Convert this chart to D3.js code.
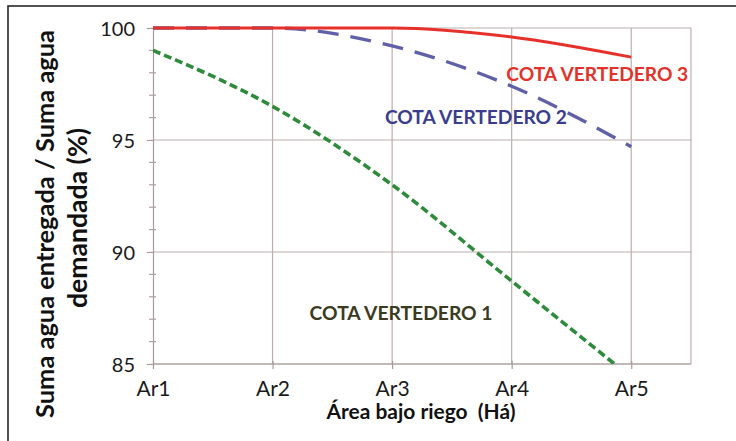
<!DOCTYPE html>
<html>
<head>
<meta charset="utf-8">
<script src="https://cdn.jsdelivr.net/npm/d3@7"></script>
<style>
  html, body { margin: 0; padding: 0; background: #ffffff; }
  svg { display: block; }
</style>
</head>
<body>
<svg id="chart" width="736" height="441"></svg>
<script>
// ---- data ----
const categories = ["Ar1", "Ar2", "Ar3", "Ar4", "Ar5"];
const xValues = [1, 2, 3, 4, 5];
const cota1 = [99.0, 96.5, 93.0, 88.7, 84.4];
const cota2 = [100, 100, 99.2, 97.4, 94.7];
const cota3 = [100, 100, 100, 99.6, 98.7];
const yTicks = [85, 90, 95, 100];
const yMinorTicks = [86, 87, 88, 89, 91, 92, 93, 94, 96, 97, 98, 99];
const seriesNames = ["COTA VERTEDERO 1", "COTA VERTEDERO 2", "COTA VERTEDERO 3"];
const yTitleLines = ["Suma agua entregada / Suma agua", "demandada (%)"];
const xTitle = "Área bajo riego  (Há)";

// ---- layout ----
const plot = { left: 153, right: 691, top: 28, bottom: 364 };
const FONT = "Lato, 'Open Sans', sans-serif";
const gridColor = "#bcaeae";

const svg = d3.select("#chart");

// outer frame (cut on right / bottom like the reference)
svg.append("rect")
  .attr("x", 8).attr("y", 6).attr("width", 900).attr("height", 600)
  .attr("fill", "none").attr("stroke", "#262626").attr("stroke-width", 1.6);

const x = d3.scaleLinear().domain([1, 5.5]).range([plot.left, plot.right]);
const y = d3.scaleLinear().domain([85, 100]).range([plot.bottom, plot.top]);

// fit text helper: adjust font-size so rendered length matches target width
function fit(sel, target) {
  const node = sel.node();
  const fs = parseFloat(sel.attr("font-size"));
  const w = node.getComputedTextLength();
  if (w > 0) sel.attr("font-size", (fs * target / w).toFixed(2));
  return sel;
}

// horizontal gridlines
svg.append("g").selectAll("line").data(yTicks).join("line")
  .attr("x1", plot.left).attr("x2", plot.right)
  .attr("y1", d => y(d)).attr("y2", d => y(d))
  .attr("stroke", gridColor).attr("stroke-width", 1.2);

// vertical gridlines
svg.append("g").selectAll("line").data(xValues.slice(1)).join("line")
  .attr("x1", d => x(d)).attr("x2", d => x(d))
  .attr("y1", plot.top).attr("y2", plot.bottom)
  .attr("stroke", gridColor).attr("stroke-width", 1.2);

// right border of plot area
svg.append("line")
  .attr("x1", plot.right).attr("x2", plot.right)
  .attr("y1", plot.top).attr("y2", plot.bottom)
  .attr("stroke", gridColor).attr("stroke-width", 1.2);

// y axis
const yAxis = d3.axisLeft(y).tickValues(yTicks).tickSize(6).tickPadding(12)
  .tickFormat(d3.format("d"));
const gy = svg.append("g").attr("transform", `translate(${plot.left},0)`).call(yAxis);
gy.select(".domain").attr("stroke", "#a89a9a").attr("stroke-width", 1.2);
gy.selectAll(".tick line").attr("stroke", "#a89a9a").attr("stroke-width", 1.2);
gy.selectAll(".tick text")
  .attr("font-family", FONT).attr("font-size", 20).attr("fill", "#1a1a1a")
  .attr("dy", "0.36em");
// minor ticks crossing the axis
svg.append("g").selectAll("line").data(yMinorTicks).join("line")
  .attr("x1", plot.left - 4).attr("x2", plot.left + 3)
  .attr("y1", d => y(d)).attr("y2", d => y(d))
  .attr("stroke", "#a89a9a").attr("stroke-width", 1.1);

// x axis
const xAxis = d3.axisBottom(x).tickValues(xValues).tickSize(5).tickPadding(12)
  .tickFormat((d, i) => categories[i]);
const gx = svg.append("g").attr("transform", `translate(0,${plot.bottom})`).call(xAxis);
gx.select(".domain").remove();
svg.append("line")
  .attr("x1", plot.left).attr("x2", plot.right)
  .attr("y1", plot.bottom).attr("y2", plot.bottom)
  .attr("stroke", "#a89a9a").attr("stroke-width", 1.2);
gx.selectAll(".tick line").attr("stroke", "#a89a9a").attr("stroke-width", 1.2)
  .attr("y1", -3);
gx.selectAll(".tick text")
  .attr("font-family", FONT).attr("font-size", 21).attr("fill", "#1a1a1a");

// clip path for series
svg.append("clipPath").attr("id", "plotclip").append("rect")
  .attr("x", plot.left).attr("y", plot.top - 3)
  .attr("width", plot.right - plot.left).attr("height", plot.bottom - plot.top + 3);

const line = d3.line().x((d, i) => x(xValues[i])).y(d => y(d)).curve(d3.curveMonotoneX);

const series = [
  { values: cota1, color: "#2e8b3b", width: 3.6, dash: "8,4" },
  { values: cota2, color: "#5f60a8", width: 3.4, dash: "21,12" },
  { values: cota3, color: "#e8302a", width: 3.0, dash: null }
];
const gs = svg.append("g").attr("clip-path", "url(#plotclip)");
series.forEach(s => {
  gs.append("path").datum(s.values)
    .attr("d", line)
    .attr("fill", "none")
    .attr("stroke", s.color)
    .attr("stroke-width", s.width)
    .attr("stroke-dasharray", s.dash)
    .attr("stroke-linecap", "butt");
});

// series labels (anchored in data space)
const labelSpecs = [
  { text: seriesNames[0], x: 2.31, y: 86.96, color: "#3b3a1e", width: 183 },
  { text: seriesNames[1], x: 2.94, y: 95.71, color: "#3a3d8e", width: 182 },
  { text: seriesNames[2], x: 3.955, y: 97.63, color: "#e2322a", width: 182 }
];
labelSpecs.forEach(l => {
  const t = svg.append("text")
    .attr("x", x(l.x)).attr("y", y(l.y))
    .attr("font-family", FONT).attr("font-weight", "bold").attr("font-size", 20)
    .attr("fill", l.color).text(l.text);
  fit(t, l.width);
});

// y axis title (two lines, rotated)
const yTitlePos = [{ bx: 54, cy: 224, w: 388 }, { bx: 87, cy: 218, w: 180 }];
const tl1 = svg.append("text")
  .attr("transform", `translate(${yTitlePos[0].bx},${yTitlePos[0].cy}) rotate(-90)`)
  .attr("text-anchor", "middle").attr("font-family", FONT).attr("font-weight", "bold")
  .attr("font-size", 24).attr("fill", "#111").text(yTitleLines[0]);
fit(tl1, yTitlePos[0].w);
const tl2 = svg.append("text")
  .attr("transform", `translate(${yTitlePos[1].bx},${yTitlePos[1].cy}) rotate(-90)`)
  .attr("text-anchor", "middle").attr("font-family", FONT).attr("font-weight", "bold")
  .attr("font-size", 24).attr("fill", "#111").text(yTitleLines[1]);
fit(tl2, yTitlePos[1].w);

// x axis title (double space preserved)
const xt = svg.append("text")
  .attr("x", 421).attr("y", 419)
  .style("white-space", "pre")
  .attr("text-anchor", "middle").attr("font-family", FONT).attr("font-weight", "bold")
  .attr("font-size", 19).attr("fill", "#111").text(xTitle);
fit(xt, 189);
</script>
</body>
</html>
